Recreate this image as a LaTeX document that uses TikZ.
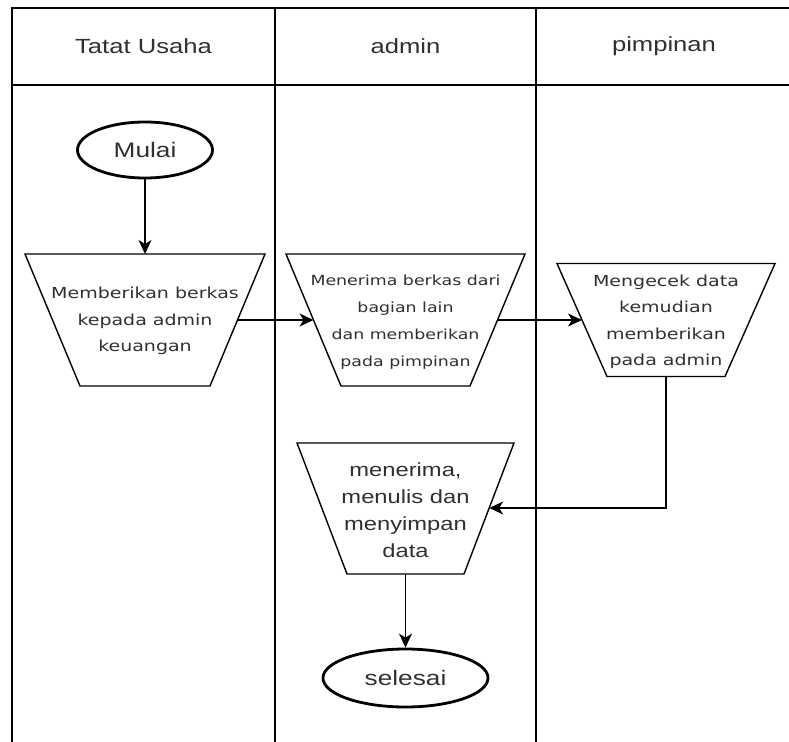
\documentclass[tikz,border=0pt]{standalone}
\usepackage{fontspec}
\usetikzlibrary{shapes.geometric,arrows.meta}
\newfontfamily\lanefont[FakeStretch=1.25]{Liberation Sans}
\newfontfamily\stepfont[FakeStretch=1.25]{DejaVu Sans}
\definecolor{inkgray}{HTML}{303030}
\tikzset{
  lane/.style={line width=1.7bp, black},
  lanetitle/.style={font=\lanefont\fontsize{20.5bp}{24bp}\selectfont, text=inkgray, inner sep=0},
  terminal/.style={draw, ellipse, line width=2.8bp, inner sep=0,
    font=\lanefont\fontsize{21bp}{24bp}\selectfont, text=inkgray},
  manual/.style={draw, line width=1.4bp, line join=miter},
  steptext/.style={font=\stepfont\fontsize{15.2bp}{26.5bp}\selectfont, text=inkgray,
    align=center, inner sep=0},
  smallsteptext/.style={steptext, font=\stepfont\fontsize{13.9bp}{27bp}\selectfont},
  bigtext/.style={font=\lanefont\fontsize{19bp}{27bp}\selectfont, text=inkgray,
    align=center, inner sep=0},
  flow/.style={line width=1.6bp, -{Stealth[length=14pt,width=13pt,inset=4pt]}}
}
\begin{document}
\begin{tikzpicture}[x=1bp,y=-1bp]
  \useasboundingbox (0,0) rectangle (789,742);

  % swimlane frame
  \draw[lane] (12,742) -- (12,8) -- (789,8);
  \draw[lane] (12,85) -- (789,85);
  \draw[lane] (275,8) -- (275,742);
  \draw[lane] (536,8) -- (536,742);

  % lane titles
  \node[lanetitle] (h1) at (143.5,46) {Tatat Usaha};
  \node[lanetitle] (h2) at (405.5,46) {admin};
  \node[lanetitle] (h3) at (664,46) {pimpinan};

  % start
  \node[terminal, minimum width=135bp, minimum height=56bp] (start) at (145,150) {Mulai};

  % step 1: manual operation (wide top, narrow bottom)
  \draw[manual] (25,254) -- (265,254) -- (210,386) -- (80,386) -- cycle;
  \coordinate (t1n) at (145,254);
  \coordinate (t1e) at (237.5,320);
  \node[steptext] (t1txt) at (145,321) {Memberikan berkas\\kepada admin\\keuangan};

  % step 2
  \draw[manual] (286,254) -- (525,254) -- (470,386) -- (341,386) -- cycle;
  \coordinate (t2w) at (313.5,320);
  \coordinate (t2e) at (497.5,320);
  \node[smallsteptext] (t2txt) at (405.5,322) {Menerima berkas dari\\bagian lain\\dan memberikan\\pada pimpinan};

  % step 3
  \draw[manual] (557,263.5) -- (775,263.5) -- (725,376.5) -- (607,376.5) -- cycle;
  \coordinate (t3w) at (582,320);
  \coordinate (t3s) at (666,376.5);
  \node[steptext] (t3txt) at (666,322) {Mengecek data\\kemudian\\memberikan\\pada admin};

  % step 4
  \draw[manual] (297,443) -- (514,443) -- (464,574) -- (347,574) -- cycle;
  \coordinate (t4e) at (489.2,508);
  \coordinate (t4s) at (405.5,574);
  \node[bigtext] (t4txt) at (405.5,510) {menerima,\\menulis dan\\menyimpan\\data};

  % end
  \node[terminal, minimum width=165bp, minimum height=58bp] (stop) at (405.5,678) {selesai};

  % connectors
  \draw[flow] (start) -- (t1n);
  \draw[flow] (t1e) -- (t2w);
  \draw[flow] (t2e) -- (t3w);
  \draw[flow] (t3s) |- (t4e);
  \draw[flow] (t4s) -- (stop);
\end{tikzpicture}
\end{document}
